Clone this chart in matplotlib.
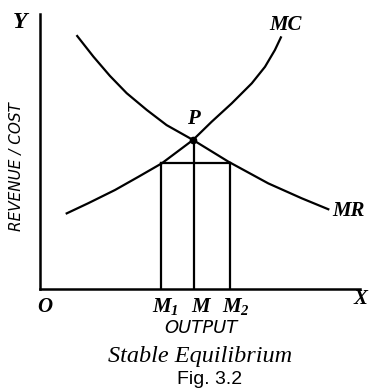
import matplotlib
matplotlib.use('Agg')
import matplotlib.pyplot as plt

# curve points (output, revenue/cost units)
mc_x = [0.89, 1.61, 2.5, 3.28, 4.06, 5.1, 5.72, 6.39, 7.06, 7.5, 7.83, 8.03]
mc_y = [2.75, 3.12, 3.6, 4.08, 4.57, 5.42, 6.08, 6.75, 7.48, 8.08, 8.69, 9.15]
mr_x = [1.24, 1.78, 2.33, 2.89, 3.56, 4.22, 5.1, 6.28, 7.61, 8.72, 9.61]
mr_y = [9.2, 8.45, 7.75, 7.12, 6.51, 5.96, 5.42, 4.63, 3.84, 3.3, 2.9]

p_point = (5.1, 5.42)
m1, m, m2 = 4.04, 5.14, 6.33
level = 4.6

plt.rcParams['mathtext.fontset'] = 'custom'
plt.rcParams['mathtext.it'] = 'Liberation Serif:bold:italic'
plt.rcParams['mathtext.rm'] = 'Liberation Serif:bold:italic'

fig = plt.figure(figsize=(3.73, 3.91), dpi=100)
ax = fig.add_axes([40 / 373, 102 / 391, 320 / 373, 275 / 391])
ax.set_xlim(0, 320 / 30)
ax.set_ylim(0, 10)
for s in ['top', 'right']:
    ax.spines[s].set_visible(False)
for s in ['left', 'bottom']:
    ax.spines[s].set_linewidth(1.8)
ax.set_xticks([])
ax.set_yticks([])

lw = 1.6
ax.plot(mc_x, mc_y, color='black', lw=lw, solid_joinstyle='round')
ax.plot(mr_x, mr_y, color='black', lw=lw, solid_joinstyle='round')
ax.plot([m1, m2], [level, level], color='black', lw=lw)
ax.plot([m1, m1], [0, level], color='black', lw=lw)
ax.plot([m2, m2], [0, level], color='black', lw=lw)
ax.plot([m, m], [0, p_point[1]], color='black', lw=lw)
ax.plot(*p_point, 'o', color='black', ms=4.5)

lab = dict(family='Liberation Serif', weight='bold', style='italic',
           color='black', clip_on=False)
ax.text(-0.67, 9.7, 'Y', fontsize=17, ha='center', va='center', **lab)
ax.text(10.67, -0.35, 'X', fontsize=15, ha='center', va='center', **lab)
ax.text(0.17, -0.65, 'O', fontsize=15, ha='center', va='center', **lab)
ax.text(8.17, 9.6, 'MC', fontsize=15, ha='center', va='center', **lab)
ax.text(9.75, 2.85, 'MR', fontsize=15, ha='left', va='center', **lab)
ax.text(5.1, 6.2, 'P', fontsize=15, ha='center', va='center', **lab)
ax.text(m1 + 0.15, -0.65, '$M_1$', fontsize=15, ha='center', va='center', **lab)
ax.text(m + 0.25, -0.65, '$M$', fontsize=15, ha='center', va='center', **lab)
ax.text(m2 + 0.2, -0.65, '$M_2$', fontsize=15, ha='center', va='center', **lab)

ax.text(5.35, -1.42, 'OUTPUT', fontsize=13, style='italic', family='DejaVu Sans',
        ha='center', va='center', clip_on=False)
ax.text(-0.77, 4.44, 'REVENUE / COST', fontsize=11, style='italic', family='DejaVu Sans',
        rotation=90, ha='center', va='center', clip_on=False)
ax.text(5.35, -2.47, 'Stable Equilibrium', fontsize=17.5, style='italic',
        family='Liberation Serif', ha='center', va='center', clip_on=False)
ax.text(5.65, -3.3, 'Fig. 3.2', fontsize=14, family='Liberation Sans',
        ha='center', va='center', clip_on=False)

fig.savefig('out.png', dpi=100)
